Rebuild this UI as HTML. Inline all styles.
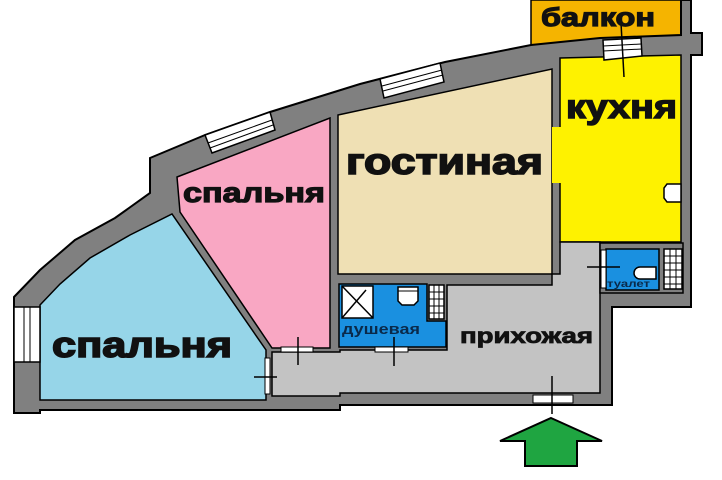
<!DOCTYPE html>
<html><head><meta charset="utf-8"><style>
html,body{margin:0;padding:0;background:#fff;width:722px;height:480px;overflow:hidden}
svg{display:block}
text{font-family:"Liberation Sans",sans-serif;font-weight:bold}
</style></head><body>
<svg width="722" height="480" viewBox="0 0 722 480" xmlns="http://www.w3.org/2000/svg">
<polygon points="531,0 683,0 683,40 531,48" fill="#f5b400" stroke="#000" stroke-width="1.5"/>
<polygon points="14,297 40,270 75,240 115,218 150,193 150,158 205,135 270,112 360,84 445,62 531,45 600,38 681,35 681,0 691,0 691,33 702,33 702,55 691,55 691,307 612,307 612,405 340,405 340,410 40,410 40,413 14,413" fill="#808080" stroke="#000" stroke-width="2"/>
<polygon points="40,305 60,284 90,258 130,235 172,214 266,350 266,400 40,400" fill="#96d5e8" stroke="#000" stroke-width="1.5"/>
<polygon points="177,177 330,118 330,348 272,348 180,212" fill="#f9a7c3" stroke="#000" stroke-width="1.5"/>
<polygon points="338,115 552,69 552,274 338,274" fill="#efe0b4" stroke="#000" stroke-width="1.5"/>
<polygon points="560,58 681,55 681,242 560,242" fill="#fef200" stroke="#000" stroke-width="1.5"/>
<rect x="552" y="127" width="10" height="56" fill="#fef200"/>
<polygon points="560,242 600,242 600,393 340,393 340,396 272,396 272,352 340,352 340,350 447,350 447,285 552,285 552,274 560,274" fill="#c3c3c3" stroke="#000" stroke-width="1.5"/>
<polygon points="339,284 427,284 427,321 446,321 446,347 339,347" fill="#1a90e0" stroke="#000" stroke-width="1.5"/>
<rect x="342" y="286" width="31" height="32" fill="#fff" stroke="#000" stroke-width="1.5"/>
<line x1="342" y1="286" x2="373" y2="318" stroke="#000" stroke-width="1.5"/>
<line x1="342" y1="318" x2="366" y2="290" stroke="#000" stroke-width="1.5"/>
<path d="M398,287 h20 v14 l-4,4 h-12 l-4,-4 z" fill="#fff" stroke="#000" stroke-width="1.5"/>
<line x1="398" y1="291" x2="418" y2="291" stroke="#000"/>
<rect x="429" y="285" width="15" height="34" fill="#fff" stroke="#000" stroke-width="1.5"/>
<path d="M434,285v34M439,285v34M429,292h15M429,299h15M429,306h15M429,313h15" stroke="#000"/>
<rect x="375" y="347" width="33" height="5" fill="#fff" stroke="#000"/>
<line x1="394" y1="337" x2="394" y2="366" stroke="#000" stroke-width="1.5"/>
<rect x="600" y="243" width="83" height="50" fill="#808080" stroke="#000" stroke-width="1.5"/>
<rect x="606" y="249" width="53" height="41" fill="#1a90e0" stroke="#000" stroke-width="1.5"/>
<rect x="601" y="250" width="5" height="38" fill="#fff" stroke="#000"/>
<rect x="664" y="249" width="18" height="40" fill="#fff" stroke="#000" stroke-width="1.5"/>
<path d="M670,249v40M676,249v40M664,256h18M664,263h18M664,270h18M664,277h18M664,284h18" stroke="#000"/>
<path d="M640,267 h16 v12 h-16 a6,6 0 0 1 0,-12z" fill="#fff" stroke="#000" stroke-width="1.5"/>
<line x1="587" y1="267" x2="620" y2="267" stroke="#000" stroke-width="1.5"/>
<path d="M681,184 h-14 l-3,4 v10 l3,4 h14z" fill="#fff" stroke="#000" stroke-width="1.5"/>
<polygon points="205,135 270,112 275,130 212,153" fill="#fff" stroke="#000" stroke-width="1.5"/>
<path d="M208,143 L272,120 M210,148 L273,125" stroke="#000"/>
<polygon points="380,79 440,63 444,82 384,98" fill="#fff" stroke="#000" stroke-width="1.5"/>
<path d="M382,86 L442,70 M383,91 L443,75" stroke="#000"/>
<polygon points="603,40 641,38 642,56 604,60" fill="#fff" stroke="#000" stroke-width="1.5"/>
<path d="M603,46 L641,44 M603,51 L642,49" stroke="#000"/>
<line x1="621" y1="23" x2="624" y2="77" stroke="#000" stroke-width="1.5"/>
<rect x="14" y="307" width="26" height="55" fill="#fff" stroke="#000" stroke-width="1.5"/>
<path d="M24,307v55M30,307v55" stroke="#000"/>
<rect x="281" y="347" width="32" height="5" fill="#fff" stroke="#000"/>
<line x1="298" y1="337" x2="298" y2="365" stroke="#000" stroke-width="1.5"/>
<rect x="265" y="358" width="5" height="36" fill="#fff" stroke="#000"/>
<line x1="254" y1="377" x2="277" y2="377" stroke="#000" stroke-width="1.5"/>
<rect x="533" y="395" width="40" height="8" fill="#fff" stroke="#000"/>
<line x1="552" y1="376" x2="552" y2="414" stroke="#000" stroke-width="1.5"/>
<polygon points="551,418 602,441 577,441 577,466 525,466 525,441 500,441" fill="#1fa541" stroke="#000" stroke-width="2"/>
<g fill="#111" stroke="#111" lengthAdjust="spacingAndGlyphs">
<text x="52" y="357" font-size="36" stroke-width="1.6" textLength="180" lengthAdjust="spacingAndGlyphs">спальня</text>
<text x="183" y="202" font-size="28" stroke-width="1.2" textLength="142" lengthAdjust="spacingAndGlyphs">спальня</text>
<text x="346" y="174" font-size="37" stroke-width="1.6" textLength="197" lengthAdjust="spacingAndGlyphs">гостиная</text>
<text x="566" y="118" font-size="33" stroke-width="1.4" textLength="111" lengthAdjust="spacingAndGlyphs">кухня</text>
<text x="541" y="26" font-size="26" stroke-width="1.2" textLength="114" lengthAdjust="spacingAndGlyphs">балкон</text>
<text x="460" y="343" font-size="21" stroke-width="0.8" textLength="133" lengthAdjust="spacingAndGlyphs">прихожая</text>
</g>
<text x="342" y="334" font-size="15" fill="#0a2a4a" textLength="78" lengthAdjust="spacingAndGlyphs">душевая</text>
<text x="607" y="287" font-size="10" fill="#0a2a4a" textLength="43" lengthAdjust="spacingAndGlyphs">туалет</text>
</svg>
</body></html>
